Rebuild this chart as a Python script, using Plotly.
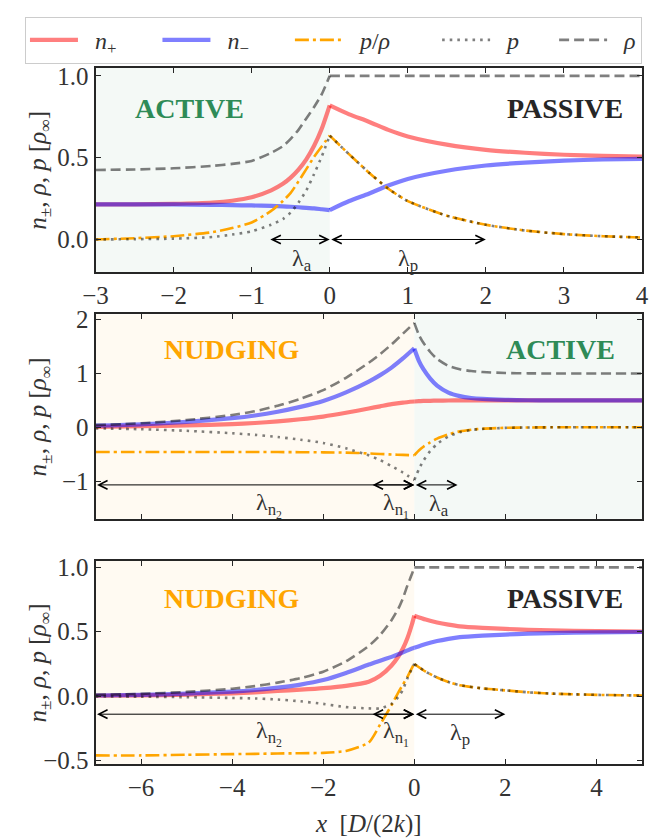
import plotly.graph_objects as go

# ---------------- data ----------------
# Panel A : active (x<0) | passive (x>0)
A_x_left = [-3, -2.5, -2, -1.5, -1.25, -1, -0.75, -0.6, -0.5, -0.4, -0.3, -0.2, -0.1, 0]
A_np_left = [0.215, 0.215, 0.218, 0.226, 0.237, 0.258, 0.30, 0.34, 0.378, 0.427, 0.49, 0.573, 0.68, 0.82]
A_nm_left = [0.215, 0.215, 0.214, 0.212, 0.21, 0.208, 0.205, 0.202, 0.2, 0.197, 0.193, 0.19, 0.185, 0.18]
A_rho_left = [0.425, 0.428, 0.435, 0.45, 0.462, 0.48, 0.53, 0.57, 0.615, 0.67, 0.74, 0.81, 0.89, 1.0]
A_p_left = [0.0, 0.002, 0.005, 0.015, 0.03, 0.05, 0.09, 0.125, 0.165, 0.225, 0.30, 0.40, 0.51, 0.635]
A_pr_left = [0.0, 0.008, 0.02, 0.045, 0.07, 0.104, 0.175, 0.235, 0.285, 0.355, 0.43, 0.505, 0.57, 0.635]
A_x_right = [0, 0.25, 0.5, 0.75, 1, 1.5, 2, 2.5, 3, 3.5, 4]
A_np_right = [0.82, 0.765, 0.72, 0.67, 0.63, 0.58, 0.548, 0.53, 0.518, 0.511, 0.507]
A_nm_right = [0.18, 0.235, 0.28, 0.33, 0.37, 0.42, 0.452, 0.47, 0.482, 0.489, 0.493]
A_rho_right = [1.0, 1.0, 1.0, 1.0, 1.0, 1.0, 1.0, 1.0, 1.0, 1.0, 1.0]
A_p_right = [0.635, 0.52, 0.41, 0.31, 0.235, 0.145, 0.09, 0.055, 0.033, 0.02, 0.012]
A_pr_right = [0.635, 0.52, 0.41, 0.31, 0.235, 0.145, 0.09, 0.055, 0.033, 0.02, 0.012]

# Panel B : nudging (x<0) | active (x>0)
B_x_left = [-7, -6, -5, -4, -3.5, -3, -2.5, -2, -1.5, -1, -0.75, -0.5, -0.25, 0]
B_np_left = [0.01, 0.02, 0.035, 0.06, 0.08, 0.11, 0.15, 0.20, 0.27, 0.35, 0.39, 0.43, 0.46, 0.48]
B_nm_left = [0.03, 0.055, 0.10, 0.17, 0.22, 0.29, 0.38, 0.49, 0.65, 0.85, 0.97, 1.11, 1.28, 1.47]
B_rho_left = [0.04, 0.075, 0.135, 0.23, 0.30, 0.40, 0.53, 0.69, 0.92, 1.20, 1.36, 1.54, 1.74, 1.94]
B_p_left = [-0.02, -0.035, -0.065, -0.11, -0.14, -0.18, -0.23, -0.29, -0.39, -0.52, -0.61, -0.72, -0.84, -0.98]
B_pr_left = [-0.46, -0.46, -0.46, -0.46, -0.46, -0.46, -0.462, -0.465, -0.47, -0.485, -0.495, -0.505, -0.512, -0.52]
B_x_right = [0, 0.1, 0.2, 0.35, 0.5, 0.75, 1, 1.25, 1.5, 2, 2.5, 3, 4, 5]
B_np_right = [0.48, 0.485, 0.49, 0.493, 0.495, 0.498, 0.5, 0.5, 0.5, 0.5, 0.5, 0.5, 0.5, 0.5]
B_nm_right = [1.46, 1.235, 1.08, 0.905, 0.775, 0.645, 0.58, 0.545, 0.527, 0.51, 0.503, 0.5, 0.5, 0.5]
B_rho_right = [1.94, 1.72, 1.57, 1.40, 1.27, 1.14, 1.08, 1.045, 1.027, 1.01, 1.003, 1.0, 1.0, 1.0]
B_p_right = [-0.98, -0.78, -0.62, -0.44, -0.31, -0.17, -0.09, -0.05, -0.03, -0.01, -0.003, 0.0, 0.0, 0.0]
B_pr_right = [-0.52, -0.43, -0.36, -0.28, -0.21, -0.13, -0.075, -0.045, -0.025, -0.01, -0.003, 0.0, 0.0, 0.0]

# Panel C : nudging (x<0) | passive (x>0)
C_x_left = [-7, -6, -5, -4, -3.5, -3, -2.5, -2, -1.5, -1, -0.75, -0.5, -0.35, -0.25, -0.15, -0.05, 0]
C_np_left = [0.003, 0.006, 0.012, 0.022, 0.03, 0.04, 0.05, 0.062, 0.08, 0.112, 0.158, 0.238, 0.308, 0.37, 0.452, 0.56, 0.625]
C_nm_left = [0.005, 0.01, 0.02, 0.035, 0.048, 0.066, 0.09, 0.125, 0.18, 0.245, 0.275, 0.305, 0.325, 0.34, 0.355, 0.37, 0.375]
C_rho_left = [0.01, 0.018, 0.033, 0.058, 0.078, 0.105, 0.14, 0.19, 0.27, 0.39, 0.475, 0.59, 0.68, 0.76, 0.86, 0.95, 1.0]
C_p_left = [-0.002, -0.004, -0.008, -0.014, -0.018, -0.026, -0.04, -0.06, -0.085, -0.095, -0.095, -0.06, -0.005, 0.05, 0.14, 0.215, 0.25]
C_pr_left = [-0.46, -0.46, -0.455, -0.45, -0.448, -0.445, -0.443, -0.44, -0.425, -0.36, -0.22, -0.07, 0.03, 0.09, 0.15, 0.22, 0.255]
C_x_right = [0, 0.25, 0.5, 0.75, 1, 1.5, 2, 2.5, 3, 4, 5]
C_np_right = [0.625, 0.595, 0.572, 0.555, 0.542, 0.53, 0.522, 0.515, 0.51, 0.505, 0.502]
C_nm_right = [0.375, 0.405, 0.428, 0.445, 0.458, 0.47, 0.478, 0.485, 0.49, 0.495, 0.498]
C_rho_right = [1.0, 1.0, 1.0, 1.0, 1.0, 1.0, 1.0, 1.0, 1.0, 1.0, 1.0]
C_p_right = [0.25, 0.19, 0.145, 0.11, 0.085, 0.06, 0.045, 0.03, 0.02, 0.01, 0.005]
C_pr_right = [0.25, 0.19, 0.145, 0.11, 0.085, 0.06, 0.045, 0.03, 0.02, 0.01, 0.005]

NB = "\u00a0"
series_names = [
    NB * 2 + "<i>n</i><sub>+</sub>" + NB * 6,
    NB * 2 + "<i>n</i><sub>−</sub>" + NB * 6,
    NB * 2 + "<i>p</i>/<i>ρ</i>" + NB * 7,
    NB * 2 + "<i>p</i>" + NB * 5,
    NB * 2 + "<i>ρ</i>",
]

panels = [
    dict(xl=A_x_left, xr=A_x_right,
         left=[A_np_left, A_nm_left, A_pr_left, A_p_left, A_rho_left],
         right=[A_np_right, A_nm_right, A_pr_right, A_p_right, A_rho_right]),
    dict(xl=B_x_left, xr=B_x_right,
         left=[B_np_left, B_nm_left, B_pr_left, B_p_left, B_rho_left],
         right=[B_np_right, B_nm_right, B_pr_right, B_p_right, B_rho_right]),
    dict(xl=C_x_left, xr=C_x_right,
         left=[C_np_left, C_nm_left, C_pr_left, C_p_left, C_rho_left],
         right=[C_np_right, C_nm_right, C_pr_right, C_p_right, C_rho_right]),
]

# ---------------- styles ----------------
styles = [
    dict(color="rgba(255,0,0,0.5)", width=4.2, dash="solid"),
    dict(color="rgba(0,0,255,0.5)", width=4.2, dash="solid"),
    dict(color="#ffa500", width=2.6, dash="14px,4px,3px,4px"),
    dict(color="rgba(0,0,0,0.5)", width=2.6, dash="2.6px,5px"),
    dict(color="rgba(0,0,0,0.5)", width=2.6, dash="10px,5px"),
]

FONT = "Liberation Serif"
TXT = "#333333"
FRAME = "#262626"
ACTIVE_C = "#2e8b57"
NUDGE_C = "#ffa500"

W, H = 649, 840
ML, MR = 20, 3
PW = W - ML - MR
AX_L = 96  # left frame pixel


def px2paper(px):
    return (px - ML) / PW


def ydom(top_px, bot_px):
    return [1 - bot_px / H, 1 - top_px / H]


fig = go.Figure()

for pi, pan in enumerate(panels):
    xa = "x" if pi == 0 else f"x{pi + 1}"
    ya = "y" if pi == 0 else f"y{pi + 1}"
    for si in range(5):
        st = styles[si]
        for side in ("left", "right"):
            xs = pan["xl"] if side == "left" else pan["xr"]
            fig.add_trace(go.Scatter(
                x=xs, y=pan[side][si], mode="lines", xaxis=xa, yaxis=ya,
                line=dict(color=st["color"], width=st["width"], dash=st["dash"],
                          shape="spline", smoothing=0.6),
                name=series_names[si], legendgroup=f"s{si}",
                showlegend=(pi == 0 and side == "left"),
                hoverinfo="skip"))

axis_common = dict(showline=True, mirror="ticks", linecolor=FRAME, linewidth=2,
                   ticks="inside", ticklen=5, tickwidth=1.2, tickcolor=FRAME,
                   showgrid=False, zeroline=False, ticklabeloverflow="allow",
                   tickfont=dict(family=FONT, size=25, color=TXT))

XDOM = [px2paper(AX_L), 1]

layout = dict(
    width=W, height=H, margin=dict(l=ML, r=MR, t=0, b=0),
    paper_bgcolor="white", plot_bgcolor="white",
    xaxis=dict(domain=XDOM, range=[-3, 4], tickvals=[-3, -2, -1, 0, 1, 2, 3, 4], anchor="y", **axis_common),
    yaxis=dict(domain=ydom(61, 270), range=[-0.2, 1.05], tickvals=[0, 0.5, 1.0], tickformat=".1f",
               anchor="x", **axis_common),
    xaxis2=dict(domain=XDOM, range=[-7, 5], tickvals=[-6, -4, -2, 0, 2, 4], showticklabels=False,
                anchor="y2", **axis_common),
    yaxis2=dict(domain=ydom(313, 522), range=[-1.7, 2.1], tickvals=[-1, 0, 1, 2], anchor="x2", **axis_common),
    xaxis3=dict(domain=XDOM, range=[-7, 5], tickvals=[-6, -4, -2, 0, 2, 4], anchor="y3", **axis_common),
    yaxis3=dict(domain=ydom(565, 773), range=[-0.53, 1.05], tickvals=[-0.5, 0, 0.5, 1.0], tickformat=".1f",
                anchor="x3", **axis_common),
    legend=dict(orientation="h", x=px2paper(25), y=1 - 9 / H, xanchor="left", yanchor="top",
                bgcolor="white", bordercolor="#cccccc", borderwidth=1,
                font=dict(family=FONT, size=24, color=TXT), itemwidth=48),
    showlegend=True,
)
fig.update_layout(**layout)

# background shading
shapes = [
    dict(type="rect", xref="x", yref="y domain", x0=-3, x1=0, y0=0, y1=1,
         fillcolor="rgba(46,139,87,0.055)", line=dict(width=0), layer="below"),
    dict(type="rect", xref="x2", yref="y2 domain", x0=-7, x1=0, y0=0, y1=1,
         fillcolor="rgba(255,165,0,0.05)", line=dict(width=0), layer="below"),
    dict(type="rect", xref="x2", yref="y2 domain", x0=0, x1=5, y0=0, y1=1,
         fillcolor="rgba(46,139,87,0.055)", line=dict(width=0), layer="below"),
    dict(type="rect", xref="x3", yref="y3 domain", x0=-7, x1=0, y0=0, y1=1,
         fillcolor="rgba(255,165,0,0.05)", line=dict(width=0), layer="below"),
]
fig.update_layout(shapes=shapes)

ann = []


def region(text, x, y, xr, yr, color):
    ann.append(dict(text=f"<b>{text}</b>", x=x, y=y, xref=xr, yref=yr, showarrow=False,
                    font=dict(family=FONT, size=28, color=color)))


region("ACTIVE", -1.8, 0.80, "x", "y", ACTIVE_C)
region("PASSIVE", 3.02, 0.80, "x", "y", "#262626")
region("NUDGING", -4.0, 1.44, "x2", "y2", NUDGE_C)
region("ACTIVE", 3.2, 1.45, "x2", "y2", ACTIVE_C)
region("NUDGING", -4.0, 0.76, "x3", "y3", NUDGE_C)
region("PASSIVE", 3.3, 0.76, "x3", "y3", "#262626")


def darrow(x0, x1, y, xr, yr):
    ann.append(dict(text="", x=x1, y=y, ax=x0, ay=y, xref=xr, yref=yr, axref=xr, ayref=yr,
                    showarrow=True, arrowside="end+start", arrowhead=5, startarrowhead=5,
                    arrowsize=1.7, startarrowsize=1.7, arrowwidth=1, arrowcolor="black"))


def lab(text, x, y, xr, yr):
    ann.append(dict(text=text, x=x, y=y, xref=xr, yref=yr, showarrow=False,
                    font=dict(family=FONT, size=24, color=TXT)))


darrow(-0.78, 0, 0.0, "x", "y")
darrow(0, 2, 0.0, "x", "y")
lab("λ<sub>a</sub>", -0.36, -0.125, "x", "y")
lab("λ<sub>p</sub>", 1.0, -0.125, "x", "y")

darrow(-7, 0, -1.07, "x2", "y2")
darrow(-0.95, 0, -1.07, "x2", "y2")
darrow(0, 0.95, -1.07, "x2", "y2")
lab("λ<sub>n<sub>2</sub></sub>", -3.2, -1.45, "x2", "y2")
lab("λ<sub>n<sub>1</sub></sub>", -0.41, -1.45, "x2", "y2")
lab("λ<sub>a</sub>", 0.54, -1.45, "x2", "y2")

darrow(-7, 0, -0.14, "x3", "y3")
darrow(-0.95, 0, -0.14, "x3", "y3")
darrow(0, 2, -0.14, "x3", "y3")
lab("λ<sub>n<sub>2</sub></sub>", -3.2, -0.29, "x3", "y3")
lab("λ<sub>n<sub>1</sub></sub>", -0.41, -0.29, "x3", "y3")
lab("λ<sub>p</sub>", 1.0, -0.29, "x3", "y3")

# axis titles
ytitle = "<i>n</i><sub>±</sub>, <i>ρ</i>, <i>p</i> [<i>ρ</i><sub>∞</sub>]"
for (top, bot) in [(61, 270), (313, 522), (565, 773)]:
    ann.append(dict(text=ytitle, x=px2paper(40), y=1 - (top + bot) / 2 / H,
                    xref="paper", yref="paper", showarrow=False, textangle=-90,
                    xanchor="center", yanchor="middle",
                    font=dict(family=FONT, size=25, color=TXT)))
ann.append(dict(text="<i>x</i>  [<i>D</i>/(2<i>k</i>)]", x=px2paper(371), y=1 - 834 / H,
                xref="paper", yref="paper", showarrow=False, xanchor="center", yanchor="middle",
                font=dict(family=FONT, size=25, color=TXT)))

fig.update_layout(annotations=ann)

fig.write_html("out.html")
